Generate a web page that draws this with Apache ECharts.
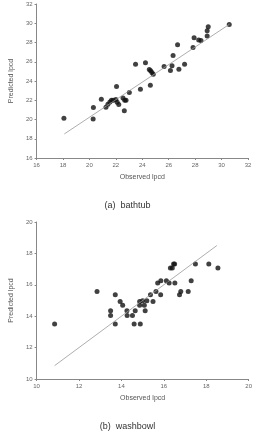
<!DOCTYPE html>
<html>
<head>
<meta charset="utf-8">
<script src="https://cdn.jsdelivr.net/npm/echarts@6/dist/echarts.min.js"></script>
<style>
  html, body { margin: 0; padding: 0; background: #fff; }
  #chart { width: 255px; height: 435px; }
</style>
</head>
<body>
<div id="chart"></div>
<script>
// (a) bathtub: observed vs predicted lpcd
var bathObs = [18.07, 20.3, 20.28, 20.9, 21.25, 21.4, 21.55, 21.67, 21.8, 22.0, 22.05,
    22.1, 22.22, 22.54, 22.64, 22.67, 22.77, 23.02, 23.49, 23.86, 24.24, 24.53, 24.63,
    24.61, 24.73, 24.83, 25.65, 26.13, 26.25, 26.33, 26.67, 26.77, 27.2, 27.84, 27.92,
    28.27, 28.44, 28.91, 28.91, 28.99, 30.58];
var bathPred = [20.12, 21.24, 20.06, 22.1, 21.27, 21.58, 21.83, 22.0, 22.0, 22.07, 23.42,
    21.8, 21.55, 22.24, 20.9, 22.0, 22.0, 22.8, 25.75, 23.14, 25.9, 25.2, 25.06,
    23.56, 24.88, 24.7, 25.5, 25.1, 25.58, 26.65, 27.76, 25.23, 25.75, 27.49, 28.5,
    28.25, 28.22, 28.67, 29.22, 29.64, 29.88];
var bathFit = [[18.1, 18.5], [30.6, 29.9]];

// (b) washbowl
var washObs = [10.85, 12.85, 13.49, 13.49, 13.71, 13.71, 13.94, 14.06, 14.26, 14.27,
    14.52, 14.6, 14.65, 14.89, 14.86, 14.86, 15.0, 15.08, 15.12, 15.2, 15.37, 15.49,
    15.63, 15.71, 15.85, 15.86, 16.12, 16.25, 16.31, 16.4, 16.46, 16.51, 16.52, 16.74,
    16.8, 17.15, 17.29, 17.49, 18.12, 18.55];
var washPred = [13.5, 15.58, 14.35, 14.05, 15.37, 13.5, 14.94, 14.69, 14.35, 14.05,
    14.05, 13.5, 14.35, 13.5, 14.69, 14.94, 14.99, 14.69, 14.35, 14.99, 15.37, 14.94,
    15.58, 16.11, 15.37, 16.26, 16.26, 16.11, 17.07, 17.07, 17.32, 17.32, 16.11, 15.37,
    15.58, 15.58, 16.26, 17.32, 17.32, 17.07];
var washFit = [[10.85, 10.85], [18.5, 18.5]];

var xTitle = 'Observed lpcd';
var yTitle = 'Predicted lpcd';
var captions = ['(a)  bathtub', '(b)  washbowl'];

function pairs(xs, ys) {
    return xs.map(function (x, i) { return [x, ys[i]]; });
}

function axis(idx, min, max, interval, name, isY) {
    return {
        type: 'value',
        gridIndex: idx,
        min: min,
        max: max,
        interval: interval,
        name: name,
        nameLocation: 'middle',
        nameGap: isY ? 20 : 16,
        nameTextStyle: { color: '#555', fontSize: 7, fontFamily: 'Arial' },
        axisLine: { show: true, lineStyle: { color: '#888', width: 1 } },
        axisTick: { show: true, length: 2, lineStyle: { color: '#888' } },
        axisLabel: { color: '#666', fontSize: 6, margin: 4, fontFamily: 'Arial' },
        splitLine: { show: false }
    };
}

var chart = echarts.init(document.getElementById('chart'));
var option = {
    backgroundColor: '#fff',
    animation: false,
    title: [
        { text: captions[0], left: 'center', top: 196,
          textStyle: { fontSize: 9, fontWeight: 'normal', color: '#333', fontFamily: 'Arial' } },
        { text: captions[1], left: 'center', top: 417,
          textStyle: { fontSize: 9, fontWeight: 'normal', color: '#333', fontFamily: 'Arial' } }
    ],
    grid: [
        { left: 33, right: 7, top: 4, height: 154 },
        { left: 33, right: 5, top: 222, height: 157 }
    ],
    xAxis: [
        axis(0, 16, 32, 2, xTitle, false),
        axis(1, 10, 20, 2, xTitle, false)
    ],
    yAxis: [
        axis(0, 16, 32, 2, yTitle, true),
        axis(1, 10, 20, 2, yTitle, true)
    ],
    series: [
        { type: 'line', xAxisIndex: 0, yAxisIndex: 0, data: bathFit, showSymbol: false,
          lineStyle: { color: '#999', width: 0.8 } },
        { type: 'scatter', xAxisIndex: 0, yAxisIndex: 0, data: pairs(bathObs, bathPred),
          symbolSize: 5, itemStyle: { color: '#111' } },
        { type: 'line', xAxisIndex: 1, yAxisIndex: 1, data: washFit, showSymbol: false,
          lineStyle: { color: '#999', width: 0.8 } },
        { type: 'scatter', xAxisIndex: 1, yAxisIndex: 1, data: pairs(washObs, washPred),
          symbolSize: 5, itemStyle: { color: '#111' } }
    ]
};
chart.setOption(option);
window.onresize = chart.resize;
</script>
</body>
</html>
